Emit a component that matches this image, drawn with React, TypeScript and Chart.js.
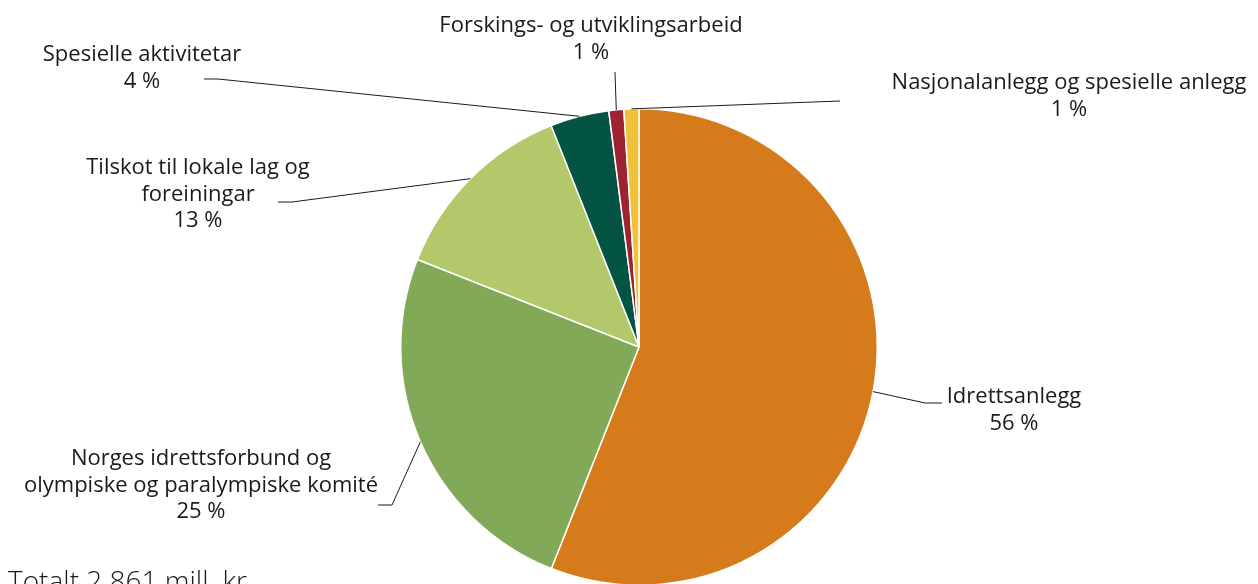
import React, { useEffect, useRef } from "react";
import { Chart, registerables } from "chart.js";

Chart.register(...registerables);

const categories = [
  "Idrettsanlegg",
  "Norges idrettsforbund og olympiske og paralympiske komité",
  "Tilskot til lokale lag og foreiningar",
  "Spesielle aktivitetar",
  "Forskings- og utviklingsarbeid",
  "Nasjonalanlegg og spesielle anlegg",
];
// mill. kr (total 2 861)
const values = [1602, 715, 372, 114, 29, 29];
const labelLines = [
  ["Idrettsanlegg"],
  ["Norges idrettsforbund og", "olympiske og paralympiske komité"],
  ["Tilskot til lokale lag og", "foreiningar"],
  ["Spesielle aktivitetar"],
  ["Forskings- og utviklingsarbeid"],
  ["Nasjonalanlegg og spesielle anlegg"],
];
const colors = ["#D57B1B", "#82A957", "#B2C86A", "#045444", "#9E2330", "#F0C23A"];
const totalText = "Totalt 2 861 mill. kr";

// label layout: center x, first baseline y, elbow points from label toward arc
const labelLayout = [
  { x: 1014, y: 403, pts: [[942, 403], [925, 403]] },
  { x: 201, y: 465, pts: [[378, 505], [392, 505]] },
  { x: 198, y: 174, pts: [[278, 202], [292, 202]] },
  { x: 142, y: 61, pts: [[204, 79], [218, 79]] },
  { x: 591, y: 32, pts: [[615, 72]] },
  { x: 1069, y: 89, pts: [[840, 101]] },
];

const FONT = '"Open Sans", sans-serif';

const labelPlugin = {
  id: "pieLabels",
  afterDraw(chart: any) {
    const ctx = chart.ctx;
    const meta = chart.getDatasetMeta(0);
    const data = chart.data.datasets[0].data as number[];
    const total = data.reduce((a, b) => a + b, 0);
    ctx.save();
    meta.data.forEach((arc: any, i: number) => {
      const { x, y, startAngle, endAngle, outerRadius } = arc.getProps(
        ["x", "y", "startAngle", "endAngle", "outerRadius"],
        true
      );
      const mid = (startAngle + endAngle) / 2;
      const ax = x + Math.cos(mid) * outerRadius;
      const ay = y + Math.sin(mid) * outerRadius;
      const lay = labelLayout[i];
      ctx.strokeStyle = "#1a1a1a";
      ctx.lineWidth = 1;
      ctx.beginPath();
      ctx.moveTo(lay.pts[0][0], lay.pts[0][1]);
      for (let k = 1; k < lay.pts.length; k++) ctx.lineTo(lay.pts[k][0], lay.pts[k][1]);
      ctx.lineTo(ax, ay);
      ctx.stroke();

      ctx.fillStyle = "#1a1a1a";
      ctx.font = `22px ${FONT}`;
      ctx.textAlign = "center";
      ctx.textBaseline = "alphabetic";
      const lines = [...labelLines[i], `${Math.round((data[i] / total) * 100)} %`];
      lines.forEach((t, k) => ctx.fillText(t, lay.x, lay.y + k * 26.5));
    });
    ctx.font = `300 28px ${FONT}`;
    ctx.textAlign = "left";
    ctx.fillStyle = "#1a1a1a";
    ctx.fillText(totalText, 8, 591);
    ctx.restore();
  },
};

export default function App() {
  const ref = useRef<HTMLCanvasElement>(null);
  useEffect(() => {
    document.body.style.margin = "0";
    document.body.style.overflow = "hidden";
    const chart = new Chart(ref.current!, {
      type: "pie",
      data: {
        labels: categories,
        datasets: [
          {
            data: values,
            backgroundColor: colors,
            borderColor: "#ffffff",
            borderWidth: 1.5,
          },
        ],
      },
      options: {
        animation: false,
        responsive: false,
        layout: { padding: { left: 400, right: 380, top: 108, bottom: 14 } },
        plugins: { legend: { display: false }, tooltip: { enabled: false } },
      },
      plugins: [labelPlugin],
    });
    return () => chart.destroy();
  }, []);
  return (
    <div style={{ width: 1258, height: 584, overflow: "hidden", background: "#fff" }}>
      <canvas ref={ref} width={1258} height={600} style={{ display: "block" }} />
    </div>
  );
}
